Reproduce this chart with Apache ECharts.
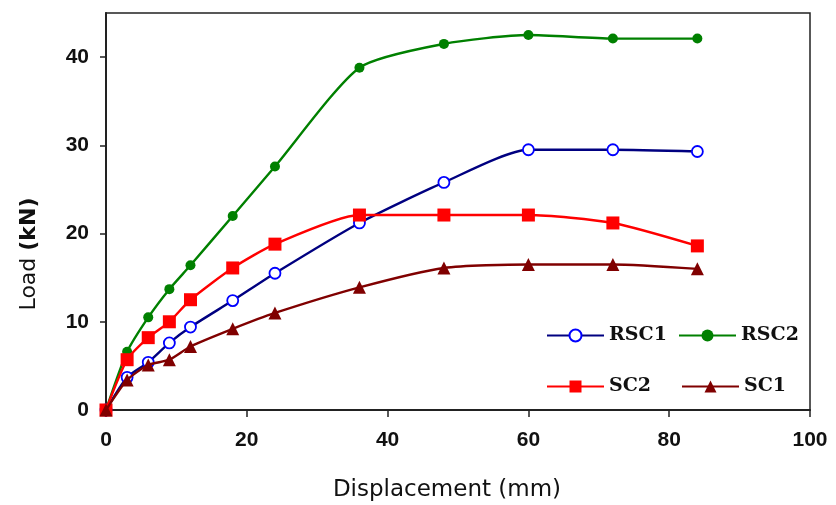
<!DOCTYPE html>
<html>
<head>
<meta charset="utf-8">
<script src="https://cdn.jsdelivr.net/npm/echarts@6/dist/echarts.min.js"></script>
<style>html,body{margin:0;padding:0;background:#fff}#c{width:836px;height:505px}</style>
</head>
<body>
<div id="c"></div>
<script>
const displacement = [0, 3, 6, 9, 12, 18, 24, 36, 48, 60, 72, 84];
const rsc1 = [0, 3.7, 5.4, 7.6, 9.4, 12.4, 15.5, 21.2, 25.8, 29.5, 29.5, 29.3];
const rsc2 = [0, 6.6, 10.5, 13.7, 16.4, 22.0, 27.6, 38.8, 41.5, 42.5, 42.1, 42.1];
const sc2 = [0, 5.7, 8.2, 10.0, 12.5, 16.1, 18.8, 22.1, 22.1, 22.1, 21.2, 18.6];
const sc1 = [0, 3.4, 5.1, 5.7, 7.2, 9.2, 11.0, 13.9, 16.1, 16.5, 16.5, 16.0];
const yTicks = [0, 10, 20, 30, 40];
const xTicks = [0, 20, 40, 60, 80, 100];

const pair = arr => displacement.map((x, i) => [x, arr[i]]);
const chart = echarts.init(document.getElementById('c'), null, {renderer: 'canvas'});

const legendText = {fontFamily: 'DejaVu Serif', fontWeight: 'bold', fontSize: 19, color: '#111'};
function leg(name, left, top) {
  return {data: [name], left: left, top: top, padding: 0, itemWidth: 57, itemHeight: 15,
          itemGap: 0, textStyle: legendText, selectedMode: false};
}

chart.setOption({
  animation: false,
  backgroundColor: '#fff',
  grid: {left: 106, right: 26, top: 13, bottom: 95, show: true, borderColor: '#222', borderWidth: 1.5, backgroundColor: 'transparent'},
  xAxis: {
    type: 'value', min: 0, max: 100, interval: 20,
    axisLine: {show: true, onZero: false, lineStyle: {color: '#222', width: 2}},
    axisTick: {show: true, inside: false, length: 7, lineStyle: {color: '#222', width: 1.5}},
    axisLabel: {margin: 20, fontFamily: 'Liberation Sans', fontWeight: 'bold', fontSize: 21, color: '#111', customValues: xTicks},
    splitLine: {show: false}
  },
  yAxis: {
    type: 'value', min: 0, max: 45,
    axisLine: {show: true, onZero: false, lineStyle: {color: '#222', width: 2}},
    axisTick: {show: true, inside: false, length: 6, lineStyle: {color: '#222', width: 1.5}, customValues: yTicks},
    axisLabel: {margin: 17, fontFamily: 'Liberation Sans', fontWeight: 'bold', fontSize: 21, color: '#111', customValues: yTicks},
    splitLine: {show: false}
  },
  legend: [
    leg('RSC1', 546, 326),
    leg('RSC2', 678, 326),
    leg('SC2', 546, 377),
    leg('SC1', 681, 377)
  ],
  graphic: [
    {type: 'text', x: 447, y: 490, style: {text: 'Displacement (mm)', font: '23px "DejaVu Sans"', fill: '#111', textAlign: 'center', textVerticalAlign: 'middle'}},
    {type: 'text', x: 29, y: 254, rotation: Math.PI / 2, style: {
      text: '{a|Load }{b|(kN)}', textAlign: 'center', textVerticalAlign: 'middle',
      rich: {a: {fontFamily: 'DejaVu Sans', fontSize: 22, fill: '#111', color: '#111'},
             b: {fontFamily: 'DejaVu Sans', fontWeight: 'bold', fontSize: 22, fill: '#111', color: '#111'}}
    }}
  ],
  series: [
    {name: 'RSC1', type: 'line', data: pair(rsc1), smooth: 0.22, symbol: 'circle', symbolSize: 11,
     lineStyle: {color: '#000080', width: 2.4}, itemStyle: {color: '#ffffff', borderColor: '#0000ff', borderWidth: 1.8}, z: 2},
    {name: 'RSC2', type: 'line', data: pair(rsc2), smooth: 0.22, symbol: 'circle', symbolSize: 10,
     lineStyle: {color: '#008000', width: 2.4}, itemStyle: {color: '#008000'}, z: 3},
    {name: 'SC2', type: 'line', data: pair(sc2), smooth: 0.22, symbol: 'rect', symbolSize: 13,
     lineStyle: {color: '#ff0000', width: 2.4}, itemStyle: {color: '#ff0000'}, z: 4},
    {name: 'SC1', type: 'line', data: pair(sc1), smooth: 0.22, symbol: 'triangle', symbolSize: 13,
     lineStyle: {color: '#800000', width: 2.4}, itemStyle: {color: '#800000'}, z: 5}
  ]
});
</script>
</body>
</html>
